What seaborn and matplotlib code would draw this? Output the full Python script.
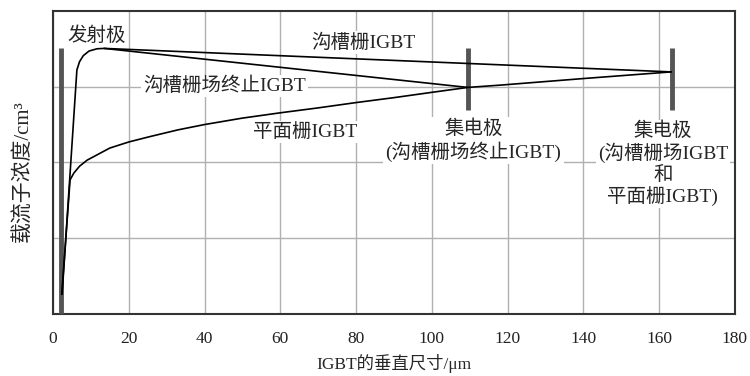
import matplotlib
matplotlib.use("Agg")
import matplotlib.pyplot as plt
import seaborn as sns

# 沟槽栅IGBT
trench_x = [2.4, 6.3, 7.0, 8.0, 9.5, 11.6, 13.5, 163.2]
trench_y = [0.26, 3.22, 3.33, 3.41, 3.47, 3.50, 3.505, 3.195]

# 沟槽栅场终止IGBT
fs_x = [13.5, 109.5]
fs_y = [3.505, 2.99]

# 平面栅IGBT
planar_x = [2.3, 4.5, 5.5, 7.0, 9.0, 12.0, 15.0, 20.0, 25.5, 33.0, 40.0, 50.0,
            60.0, 70.0, 80.0, 90.0, 100.0, 109.5, 118.0, 140.0, 163.2]
planar_y = [0.26, 1.77, 1.86, 1.95, 2.03, 2.11, 2.19, 2.27, 2.34, 2.43, 2.50, 2.585,
            2.655, 2.72, 2.79, 2.855, 2.925, 2.99, 3.02, 3.107, 3.195]

# electrodes: emitter, collector (field stop), collector (trench / planar)
electrode_x = [2.1, 109.5, 163.5]
electrode_top = [3.51, 3.51, 3.51]
electrode_bottom = [0.0, 2.69, 2.69]

x_ticks = [0, 20, 40, 60, 80, 100, 120, 140, 160, 180]

sns.set_style("white")
plt.rcParams['font.family'] = ['Liberation Serif', 'Noto Sans CJK SC', 'DejaVu Sans']

fig = plt.figure(figsize=(7.5, 3.76), dpi=100)
ax = fig.add_axes([0.0707, 0.165, 0.909, 0.806])

ax.set_xlim(0, 180)
ax.set_ylim(0, 4)
ax.set_xticks(x_ticks)
ax.set_yticks([1, 2, 3])
ax.set_yticklabels([])
ax.tick_params(axis='both', length=0)
ax.tick_params(axis='x', labelsize=12.5, pad=12, colors='#222222')
ax.grid(True, color='#b0b0b0', linewidth=1.0)
ax.set_axisbelow(True)
for sp in ax.spines.values():
    sp.set_color('#333333')
    sp.set_linewidth(1.5)

ax.vlines(electrode_x, electrode_bottom, electrode_top, color='#555555', linewidth=3.5, zorder=3)

sns.lineplot(x=trench_x, y=trench_y, sort=False, estimator=None, color='black', linewidth=1.2, ax=ax, zorder=4)
sns.lineplot(x=fs_x, y=fs_y, sort=False, estimator=None, color='black', linewidth=1.2, ax=ax, zorder=4)
sns.lineplot(x=planar_x, y=planar_y, sort=False, estimator=None, color='black', linewidth=1.2, ax=ax, zorder=4)

box = dict(facecolor='white', edgecolor='none', pad=1.5)
fs = 14
ax.text(11.6, 3.67, "发射极", ha='center', va='center', fontsize=fs, bbox=box, zorder=5)
ax.text(82.0, 3.58, "沟槽栅IGBT", ha='center', va='center', fontsize=fs, bbox=box, zorder=5)
ax.text(45.3, 3.01, "沟槽栅场终止IGBT", ha='center', va='center', fontsize=fs, bbox=box, zorder=5)
ax.text(66.5, 2.40, "平面栅IGBT", ha='center', va='center', fontsize=fs, bbox=box, zorder=5)
ax.text(111.0, 2.29, "集电极\n(沟槽栅场终止IGBT)", ha='center', va='center', fontsize=fs,
        linespacing=1.2, bbox=box, zorder=5)
ax.text(161.0, 1.98, "集电极\n(沟槽栅场IGBT\n和\n平面栅IGBT)", ha='center', va='center', fontsize=fs,
        linespacing=1.16, bbox=box, zorder=5)

ax.set_xlabel("IGBT的垂直尺寸/μm", fontsize=12.5, labelpad=5)
ax.set_ylabel("载流子浓度/cm³", fontsize=15)
ax.yaxis.set_label_coords(-0.029, 0.47)

fig.savefig("out.png", dpi=100)
